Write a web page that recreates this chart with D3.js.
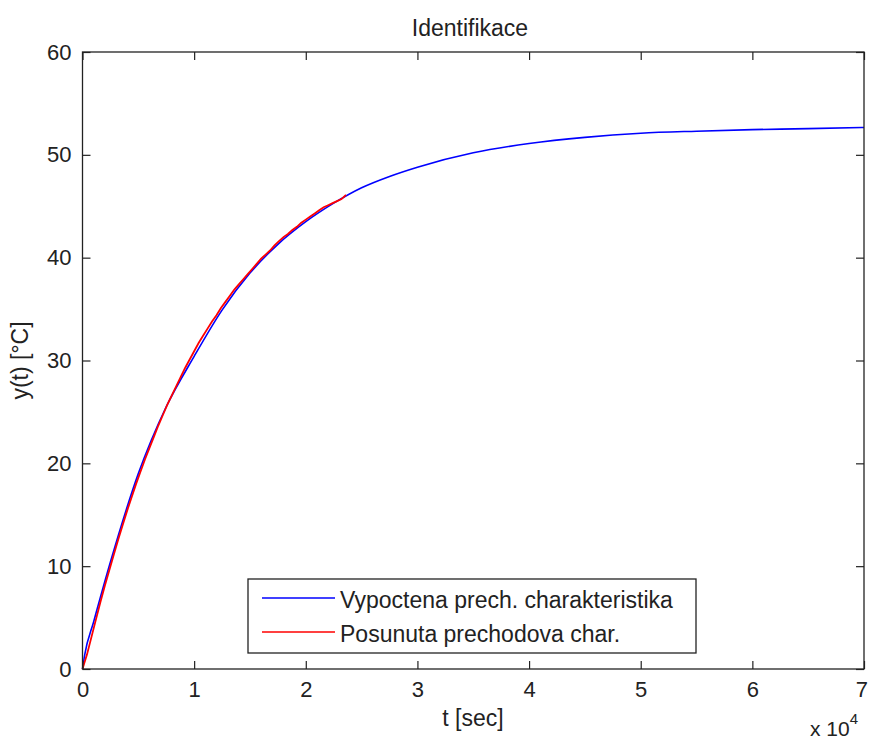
<!DOCTYPE html>
<html>
<head>
<meta charset="utf-8">
<script src="https://cdn.jsdelivr.net/npm/d3@7"></script>
<style>
  html, body { margin: 0; padding: 0; background: #fff; }
  svg text { font-family: "Liberation Sans", Arial, sans-serif; fill: #222; }
</style>
</head>
<body>
<svg id="chart" width="869" height="742"></svg>
<script>
// Time axis in units of 10^4 s
const xTicks = [0, 1, 2, 3, 4, 5, 6, 7];
const yTicks = [0, 10, 20, 30, 40, 50, 60];

// Computed step response (blue)
const modelTime = [0, 0.02, 0.1, 0.25, 0.5, 0.75, 1.0, 1.25, 1.5, 1.75, 2.0, 2.25, 2.5, 2.75, 3.0, 3.5, 4.0, 4.5, 5.0, 5.5, 6.0, 6.5, 7.0];
const modelTemp = [0, 1.4, 4.6, 10.4, 19.0, 25.5, 30.4, 34.9, 38.5, 41.3, 43.5, 45.3, 46.8, 47.9, 48.8, 50.2, 51.1, 51.7, 52.1, 52.3, 52.45, 52.55, 52.66];

// Shifted measured step response (red), sampled every 0.04 x 10^4 s
const measTime = d3.range(0, 60).map(i => +(i * 0.04).toFixed(2));
const measTemp = [0, 1.4, 3.1, 4.8, 6.5, 8.1, 9.6, 11.1, 12.6, 14.0,
                  15.4, 16.7, 18.0, 19.2, 20.4, 21.5, 22.6, 23.7, 24.7, 25.7,
                  26.6, 27.5, 28.4, 29.3, 30.1, 30.9, 31.7, 32.4, 33.1, 33.8,
                  34.4, 35.1, 35.7, 36.3, 36.9, 37.4, 37.9, 38.4, 38.9, 39.4,
                  39.9, 40.3, 40.7, 41.2, 41.6, 42.0, 42.3, 42.7, 43.0, 43.4,
                  43.7, 44.0, 44.3, 44.6, 44.9, 45.1, 45.3, 45.5, 45.7, 46.1];

const seriesNames = ["Vypoctena prech. charakteristika", "Posunuta prechodova char."];
const seriesColors = ["#0000ff", "#ff0000"];

const svg = d3.select("#chart");
const plotLeft = 82.5, plotRight = 864, plotTop = 52, plotBottom = 669;
const fontSize = 23;
const tickFontSize = 22;

const x = d3.scaleLinear().domain([0, 7]).range([plotLeft, plotRight]);
const y = d3.scaleLinear().domain([0, 60]).range([plotBottom, plotTop]);

// Curves
const blue = modelTime.map((t, i) => [t, modelTemp[i]]);
const red = measTime.map((t, i) => [t, measTemp[i]]);

svg.append("path")
  .datum(blue)
  .attr("fill", "none")
  .attr("stroke", seriesColors[0])
  .attr("stroke-width", 1.6)
  .attr("d", d3.line().x(d => x(d[0])).y(d => y(d[1])).curve(d3.curveMonotoneX));

svg.append("path")
  .datum(red)
  .attr("fill", "none")
  .attr("stroke", seriesColors[1])
  .attr("stroke-width", 1.8)
  .attr("d", d3.line().x(d => x(d[0])).y(d => y(d[1])));

// Axes with inward ticks on all four sides
const tickLen = 8;
const axisColor = "#222";

const gx = svg.append("g").attr("transform", `translate(0,${plotBottom})`)
  .call(d3.axisBottom(x).tickValues(xTicks).tickFormat(d3.format("d")).tickSize(-tickLen).tickPadding(12));
const gxTop = svg.append("g").attr("transform", `translate(0,${plotTop})`)
  .call(d3.axisTop(x).tickValues(xTicks).tickFormat("").tickSize(-tickLen));
const gy = svg.append("g").attr("transform", `translate(${plotLeft},0)`)
  .call(d3.axisLeft(y).tickValues(yTicks).tickFormat(d3.format("d")).tickSize(-tickLen).tickPadding(11));
const gyRight = svg.append("g").attr("transform", `translate(${plotRight},0)`)
  .call(d3.axisRight(y).tickValues(yTicks).tickFormat("").tickSize(-tickLen));

[gx, gxTop, gy, gyRight].forEach(g => {
  g.select(".domain").remove();
  g.selectAll(".tick line").attr("stroke", axisColor).attr("stroke-width", 1.2);
  g.selectAll(".tick text").attr("font-size", tickFontSize).attr("fill", "#222")
    .attr("font-family", '"Liberation Sans", Arial, sans-serif');
});

// Keep the last time label inside the page edge
gx.selectAll(".tick text").filter(d => d === xTicks[xTicks.length - 1])
  .attr("text-anchor", "end").attr("dx", 3.5);

// Plot box
svg.append("rect")
  .attr("x", plotLeft).attr("y", plotTop)
  .attr("width", plotRight - plotLeft).attr("height", plotBottom - plotTop)
  .attr("fill", "none").attr("stroke", axisColor).attr("stroke-width", 1.3);

// Title and axis labels
svg.append("text").attr("x", 470).attr("y", 36)
  .attr("text-anchor", "middle").attr("font-size", fontSize).text("Identifikace");

svg.append("text").attr("x", 473).attr("y", 726)
  .attr("text-anchor", "middle").attr("font-size", fontSize).text("t [sec]");

svg.append("text")
  .attr("transform", `translate(28,${(plotTop + plotBottom) / 2}) rotate(-90)`)
  .attr("text-anchor", "middle").attr("font-size", fontSize).text("y(t) [°C]");

// Exponent label for the time axis
const expo = svg.append("text").attr("x", 810).attr("y", 736).attr("font-size", 21);
expo.append("tspan").text("x 10");
expo.append("tspan").attr("dy", -12).attr("font-size", 15).text("4");

// Legend
const lg = svg.append("g");
lg.append("rect").attr("x", 248).attr("y", 579).attr("width", 448).attr("height", 74)
  .attr("fill", "#fff").attr("stroke", axisColor).attr("stroke-width", 1.3);
seriesNames.forEach((name, i) => {
  const cy = 598 + i * 34;
  lg.append("line").attr("x1", 262).attr("x2", 335).attr("y1", cy).attr("y2", cy)
    .attr("stroke", seriesColors[i]).attr("stroke-width", 1.6);
  lg.append("text").attr("x", 340).attr("y", cy + 10).attr("font-size", fontSize).text(name);
});
</script>
</body>
</html>
